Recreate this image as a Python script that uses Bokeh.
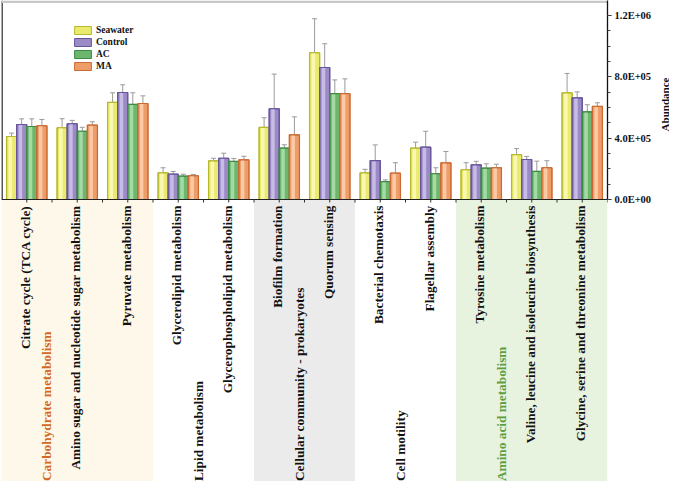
import math
import numpy as np
from bokeh.plotting import figure
from bokeh.models import (ColumnDataSource, LinearAxis, Range1d, SingleIntervalTicker,
                          CustomJSTickFormatter, Whisker, TeeHead, Legend, LegendItem, Label)
from bokeh.core.properties import value
from bokeh.embed import file_html
from bokeh.resources import INLINE

# ---------------- data ----------------
categories = [
    "Citrate cycle (TCA cycle)",
    "Amino sugar and nucleotide sugar metabolism",
    "Pyruvate metabolism",
    "Glycerolipid metabolism",
    "Glycerophospholipid metabolism",
    "Biofilm formation",
    "Quorum sensing",
    "Bacterial chemotaxis",
    "Flagellar assembly",
    "Tyrosine metabolism",
    "Valine, leucine and isoleucine biosynthesis",
    "Glycine, serine and threonine metabolism",
]
series_names = ["Seawater", "Control", "AC", "MA"]
seawater = [4.11e5, 4.68e5, 6.33e5, 1.74e5, 2.52e5, 4.70e5, 9.57e5, 1.74e5, 3.35e5, 1.94e5, 2.93e5, 6.96e5]
seawater_err = [2.2e4, 5.9e4, 6.3e4, 3.3e4, 1.7e4, 6.3e4, 2.22e5, 2.3e4, 3.9e4, 4.6e4, 3.9e4, 1.26e5]
control = [4.89e5, 4.94e5, 6.98e5, 1.65e5, 2.69e5, 5.92e5, 8.61e5, 2.54e5, 3.41e5, 2.26e5, 2.61e5, 6.63e5]
control_err = [3.7e4, 2.2e4, 5.0e4, 1.8e4, 3.3e4, 2.26e5, 1.55e5, 1.02e5, 1.04e5, 2.3e4, 2.0e4, 3.9e4]
ac = [4.76e5, 4.45e5, 6.20e5, 1.52e5, 2.48e5, 3.35e5, 6.91e5, 1.17e5, 1.68e5, 2.04e5, 1.83e5, 5.72e5]
ac_err = [5.0e4, 2.6e4, 7.6e4, 1.3e4, 2.0e4, 2.2e4, 8.9e4, 1.1e4, 3.9e4, 2.9e4, 6.7e4, 4.6e4]
ma = [4.81e5, 4.85e5, 6.26e5, 1.55e5, 2.59e5, 4.22e5, 6.91e5, 1.72e5, 2.39e5, 2.07e5, 2.07e5, 6.07e5]
ma_err = [4.1e4, 2.2e4, 5.0e4, 8.5e3, 2.3e4, 1.17e5, 9.6e4, 6.8e4, 7.4e4, 2.3e4, 4.6e4, 2.4e4]

group_names = ["Carbohydrate metabolism", "Lipid metabolism", "Cellular community - prokaryotes",
               "Cell motility", "Amino acid metabolism"]
group_first = [0, 3, 5, 7, 9]
group_last = [2, 4, 6, 8, 11]
group_text_colors = ["#D2691E", "#111111", "#111111", "#111111", "#5E9E3E"]
group_bg_colors = ["#FEF8EA", None, "#EBEBEB", None, "#E7F2DF"]

y_ticks_interval = 4e5
y_title = "Abundance"

# ---------------- styling ----------------
dark = ["#B8B82E", "#65559A", "#3C8A44", "#CC6A34"]
mid = ["#EAEA6E", "#9C8AC6", "#6CB66E", "#EE9C68"]
light = ["#FAFAC0", "#CFC4EA", "#B0E0AE", "#FBD2B2"]
FONT = value("Liberation Serif")

PX = 6522.0            # data units per screen pixel (vertical)
Y_TOP = 199 * PX
Y_BOTTOM = -282 * PX
N = len(categories)
idx = np.arange(N)

p = figure(width=669, height=481, output_backend="svg", toolbar_location=None,
           x_range=Range1d(-0.5, N - 0.5), y_range=Range1d(Y_BOTTOM, Y_TOP),
           x_axis_location=None, y_axis_location=None,
           min_border_left=1, min_border_top=0, min_border_bottom=0, min_border_right=62)
p.outline_line_color = None
p.xgrid.visible = False
p.ygrid.visible = False
p.background_fill_color = "white"

# background panels for category groups
for name, a, b, bg in zip(group_names, group_first, group_last, group_bg_colors):
    if bg is not None:
        p.quad(left=[a - 0.5], right=[b + 0.5], bottom=[Y_BOTTOM], top=[0], fill_color=bg, line_color=None)

# bars
values = [seawater, control, ac, ma]
errors = [seawater_err, control_err, ac_err, ma_err]
bw = 0.2
legend_items = []
for k, (vals, errs) in enumerate(zip(values, errors)):
    xs = idx + (k - 1.5) * bw
    v = np.array(vals)
    e = np.array(errs)
    src = ColumnDataSource(dict(x=xs, top=v, lower=v - e, upper=v + e, xh=xs - 0.025))
    r = p.vbar(x="x", top="top", bottom=0, width=bw, source=src,
               fill_color=mid[k], line_color=dark[k], line_width=1)
    p.vbar(x="xh", top="top", bottom=0, width=0.07, source=src,
           fill_color=light[k], line_color=None, fill_alpha=0.85)
    p.vbar(x="x", top="top", bottom=0, width=bw, source=src,
           fill_color=None, line_color=dark[k], line_width=1.2)
    w = Whisker(base="x", upper="upper", lower="lower", source=src,
                line_color="#9A9A9A", line_width=1,
                upper_head=TeeHead(size=5, line_color="#9A9A9A", line_width=1),
                lower_head=TeeHead(size=5, line_color="#9A9A9A", line_width=1))
    p.add_layout(w)
    legend_items.append(LegendItem(label=series_names[k], renderers=[r]))

# baseline axis line and ticks
p.segment(x0=[-0.5], x1=[N - 0.5], y0=[0], y1=[0], line_color="#222222", line_width=1.2)
tick_x = np.arange(0, N - 0.49, 0.5)
p.segment(x0=tick_x, x1=tick_x, y0=np.zeros_like(tick_x), y1=np.full_like(tick_x, -3 * PX),
          line_color="#333333", line_width=1)
# left frame line and top gray line
p.segment(x0=[-0.49], x1=[-0.49], y0=[0], y1=[Y_TOP], line_color="#222222", line_width=1.5)
p.segment(x0=[-0.5], x1=[N - 0.5], y0=[Y_TOP - 1.3 * PX], y1=[Y_TOP - 1.3 * PX],
          line_color="#C8C8C8", line_width=2.6)

# category labels (rotated)
p.text(x=idx - 0.03, y=np.full(N, -6 * PX), text=categories, angle=math.pi / 2,
       text_align="right", text_baseline="middle", text_font=FONT,
       text_font_style="bold", text_font_size="13.3px", text_color="#111111")

# group labels
gx = np.array(group_first) + 0.4
p.text(x=gx, y=np.full(len(gx), -281.5 * PX), text=group_names, angle=math.pi / 2,
       text_align="left", text_baseline="middle", text_font=FONT,
       text_font_style="bold", text_font_size="13.3px", text_color=group_text_colors)

# right axis
ax = LinearAxis(ticker=SingleIntervalTicker(interval=y_ticks_interval, num_minor_ticks=4),
                bounds=(0, Y_TOP))
ax.formatter = CustomJSTickFormatter(code=r"""
var s = tick.toExponential(1).toUpperCase();
return s.replace(/E([+-])(\d)$/, 'E$10$2');
""")
ax.axis_line_color = "#111111"
ax.axis_line_width = 1.3
ax.major_tick_in = 0
ax.major_tick_out = 4
ax.minor_tick_in = 0
ax.minor_tick_out = 3
ax.major_tick_line_color = "#222222"
ax.minor_tick_line_color = "#444444"
ax.major_label_standoff = 3
ax.major_label_text_font = "Liberation Serif"
ax.major_label_text_font_style = "bold"
ax.major_label_text_font_size = "10.5px"
ax.major_label_text_color = "#111111"
p.add_layout(ax, "right")

# axis title in its own side panel, centred on the bounded part of the axis
p.add_layout(Label(x=10, y=481 - 104, x_units="screen", y_units="screen", text=y_title,
                   angle=math.pi / 2, text_align="center", text_baseline="middle",
                   text_font="Liberation Serif", text_font_style="bold",
                   text_font_size="11px", text_color="#111111"), "right")

legend = Legend(items=legend_items, location=(71, 410), glyph_width=21, glyph_height=10,
                label_height=10, label_width=30, spacing=2, padding=0, margin=0,
                border_line_color=None, background_fill_alpha=0,
                label_text_font="Liberation Serif", label_text_font_style="bold",
                label_text_font_size="9.5px", label_standoff=3, label_text_color="#111111")
p.add_layout(legend)

open("out.html", "w").write(file_html(p, INLINE))
